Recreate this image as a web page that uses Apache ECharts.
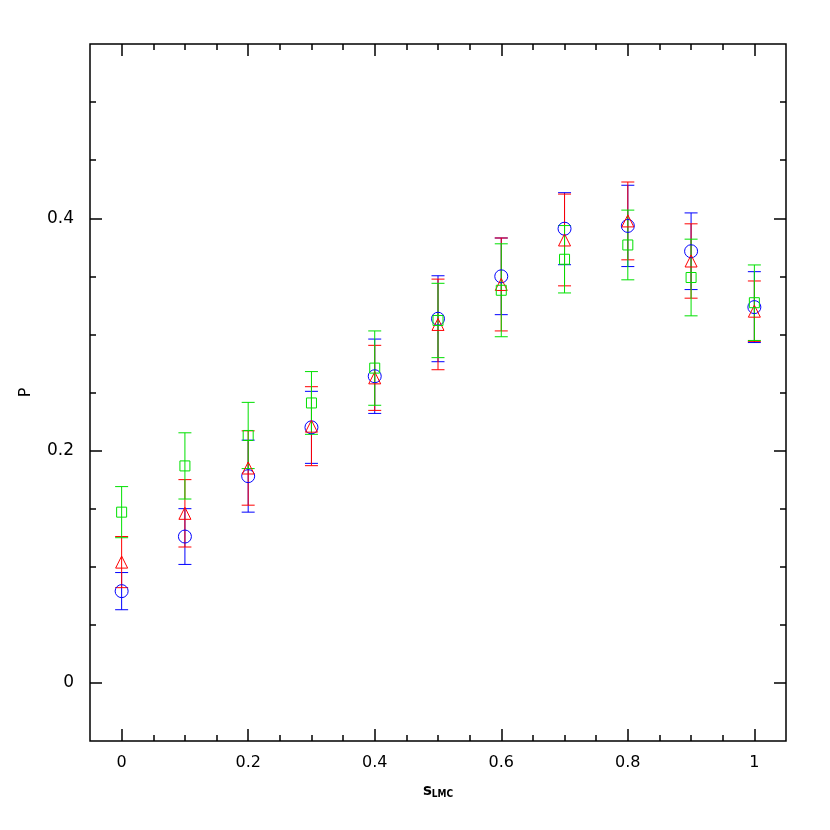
<!DOCTYPE html>
<html>
<head>
<meta charset="utf-8">
<script src="https://cdn.jsdelivr.net/npm/echarts@6/dist/echarts.min.js"></script>
<style>
  html, body { margin: 0; padding: 0; background: #fff; }
  #chart { width: 830px; height: 830px; }
</style>
</head>
<body>
<div id="chart"></div>
<script>
// s_LMC values
var sLmc = [0, 0.1, 0.2, 0.3, 0.4, 0.5, 0.6, 0.7, 0.8, 0.9, 1];

// blue circles
var blueP = [0.079, 0.126, 0.178, 0.220, 0.264, 0.3135, 0.350, 0.391, 0.3934, 0.3716, 0.3235];
var blueErr = [0.016, 0.024, 0.031, 0.031, 0.032, 0.037, 0.033, 0.031, 0.035, 0.033, 0.0305];
// red triangles
var redP = [0.104, 0.146, 0.185, 0.221, 0.2626, 0.3086, 0.343, 0.3813, 0.3977, 0.3632, 0.320];
var redErr = [0.022, 0.029, 0.032, 0.034, 0.028, 0.039, 0.040, 0.0395, 0.0335, 0.032, 0.026];
// green squares
var greenP = [0.147, 0.1868, 0.213, 0.241, 0.271, 0.312, 0.338, 0.3647, 0.377, 0.349, 0.3273];
var greenErr = [0.022, 0.0285, 0.0285, 0.027, 0.032, 0.032, 0.040, 0.029, 0.030, 0.033, 0.0325];

// ticks
var xMajor = [0, 0.2, 0.4, 0.6, 0.8, 1];
var xMinor = [0.05, 0.1, 0.15, 0.25, 0.3, 0.35, 0.45, 0.5, 0.55, 0.65, 0.7, 0.75, 0.85, 0.9, 0.95];
var yMajor = [0, 0.2, 0.4];
var yMinor = [0.05, 0.1, 0.15, 0.25, 0.3, 0.35, 0.45, 0.5];

var chart = echarts.init(document.getElementById('chart'));

function pts (vals, errs) {
  return sLmc.map(function (x, i) { return [x, vals[i], errs[i]]; });
}

function errBars (name, color, vals, errs) {
  return {
    name: name,
    type: 'custom',
    data: pts(vals, errs),
    z: 2,
    renderItem: function (params, api) {
      var x = api.value(0), y = api.value(1), e = api.value(2);
      var hi = api.coord([x, y + e]);
      var lo = api.coord([x, y - e]);
      var hw = 6.5;
      var st = { stroke: color, lineWidth: 1 };
      return {
        type: 'group',
        children: [
          { type: 'line', shape: { x1: hi[0], y1: hi[1], x2: lo[0], y2: lo[1] }, style: st },
          { type: 'line', shape: { x1: hi[0] - hw, y1: hi[1], x2: hi[0] + hw, y2: hi[1] }, style: st },
          { type: 'line', shape: { x1: lo[0] - hw, y1: lo[1], x2: lo[0] + hw, y2: lo[1] }, style: st }
        ]
      };
    }
  };
}

// hollow markers, error bar lines show through them
function marks (name, color, symbol, size, vals) {
  return {
    name: name,
    type: 'scatter',
    symbol: symbol,
    symbolSize: size,
    z: 3,
    itemStyle: { color: 'rgba(0,0,0,0)', borderColor: color, borderWidth: 1, opacity: 1 },
    data: sLmc.map(function (x, i) { return [x, vals[i]]; })
  };
}

function xAx (pos, ticks, len, labels) {
  return {
    type: 'value', position: pos, min: -0.05, max: 1.05,
    axisLine: { show: false, onZero: false },
    splitLine: { show: false },
    axisTick: { inside: true, length: len, customValues: ticks, lineStyle: { color: '#000', width: 1.5 } },
    axisLabel: labels ? {
      customValues: ticks, margin: 14, color: '#000',
      fontFamily: 'DejaVu Sans', fontSize: 16
    } : { show: false }
  };
}

function yAx (pos, ticks, len, labels) {
  return {
    type: 'value', position: pos, min: -0.05, max: 0.55,
    axisLine: { show: false, onZero: false },
    splitLine: { show: false },
    axisTick: { inside: true, length: len, customValues: ticks, lineStyle: { color: '#000', width: 1.5 } },
    axisLabel: labels ? {
      customValues: ticks, margin: 16, color: '#000',
      fontFamily: 'DejaVu Sans', fontSize: 17
    } : { show: false }
  };
}

var xAxes = [xAx('bottom', xMajor, 12, true), xAx('bottom', xMinor, 6, false),
  xAx('top', xMajor, 12, false), xAx('top', xMinor, 6, false)];
xAxes[0].name = '{s|s}{sub|LMC}';
xAxes[0].nameLocation = 'middle';
xAxes[0].nameGap = 42;
xAxes[0].nameTextStyle = {
  rich: {
    s: { fontFamily: 'DejaVu Sans', fontWeight: 'bold', fontSize: 15, color: '#000', verticalAlign: 'bottom' },
    sub: { fontFamily: 'DejaVu Sans Condensed', fontWeight: 'bold', fontSize: 10, color: '#000', padding: [6, 0, 0, 0] }
  }
};

var yAxes = [yAx('left', yMajor, 12, true), yAx('left', yMinor, 6, false),
  yAx('right', yMajor, 12, false), yAx('right', yMinor, 6, false)];
yAxes[0].name = 'P';
yAxes[0].nameLocation = 'middle';
yAxes[0].nameRotate = 90;
yAxes[0].nameGap = 56;
yAxes[0].nameTextStyle = { fontFamily: 'DejaVu Sans', fontSize: 16, color: '#000' };

chart.setOption({
  animation: false,
  backgroundColor: '#fff',
  grid: { left: 90, right: 44, top: 44, bottom: 89, show: true, borderColor: '#000', borderWidth: 1.5 },
  xAxis: xAxes,
  yAxis: yAxes,
  series: [
    errBars('blue err', '#0000ff', blueP, blueErr),
    errBars('red err', '#ff0000', redP, redErr),
    errBars('green err', '#00e000', greenP, greenErr),
    marks('blue', '#0000ff', 'circle', 13, blueP),
    marks('red', '#ff0000', 'triangle', 12, redP),
    marks('green', '#00e000', 'rect', 10, greenP)
  ]
});
</script>
</body>
</html>
